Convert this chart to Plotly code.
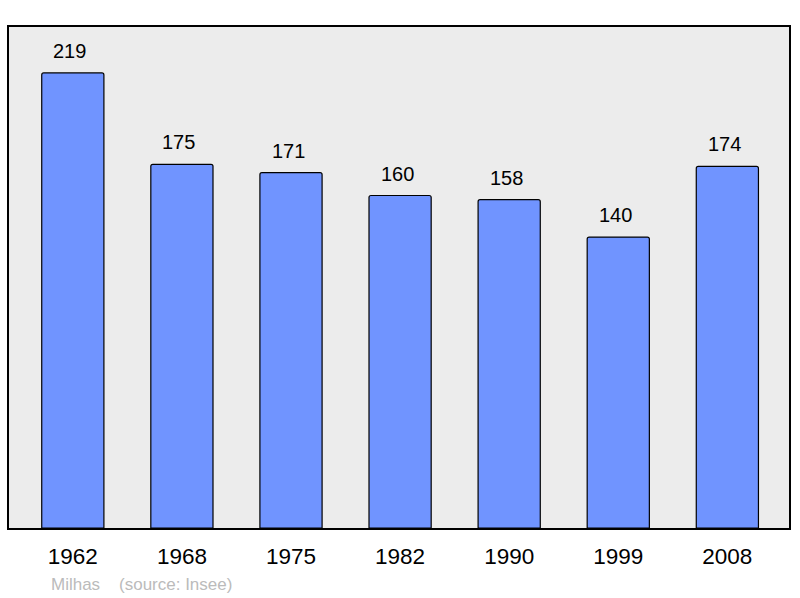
import plotly.graph_objects as go

years = ["1962", "1968", "1975", "1982", "1990", "1999", "2008"]
population = [219, 175, 171, 160, 158, 140, 174]

fig = go.Figure()
fig.add_trace(go.Bar(
    x=years,
    y=population,
    width=0.57,
    marker=dict(color="#7094ff", line=dict(color="#000000", width=1.2), cornerradius=2),
    cliponaxis=False,
))

# value labels above the bars (category index as x)
for i, v in enumerate(population):
    fig.add_annotation(
        x=i, y=v, text=str(v), showarrow=False,
        yanchor="bottom", yshift=9, xshift=-3,
        font=dict(size=20, color="#000000"),
    )

fig.update_layout(
    width=800,
    height=598,
    margin=dict(l=9, r=9, t=27, b=70),
    paper_bgcolor="#ffffff",
    plot_bgcolor="#ececec",
    font=dict(family="Liberation Sans", color="#000000"),
    showlegend=False,
)

fig.update_xaxes(
    type="category",
    range=[-0.585, 6.565],
    showline=True, mirror=True, linecolor="#000000", linewidth=2,
    ticks="", tickfont=dict(size=22.5), ticklabelstandoff=7,
    showgrid=False, zeroline=False,
)
fig.update_yaxes(
    range=[0, 241.1],
    showline=True, mirror=True, linecolor="#000000", linewidth=2,
    showticklabels=False, ticks="",
    showgrid=False, zeroline=False,
)

fig.add_annotation(
    text="Milhas&nbsp;&nbsp;&nbsp;&nbsp;(source: Insee)",
    xref="paper", yref="paper", x=0.051, y=0,
    xanchor="left", yanchor="middle", yshift=-56,
    showarrow=False, font=dict(size=17, color="#bbbbbb"),
)

fig.write_html(
    "out.html",
    config={"displayModeBar": False},
    post_script="document.body.style.margin='0';document.body.style.overflow='hidden';",
)
